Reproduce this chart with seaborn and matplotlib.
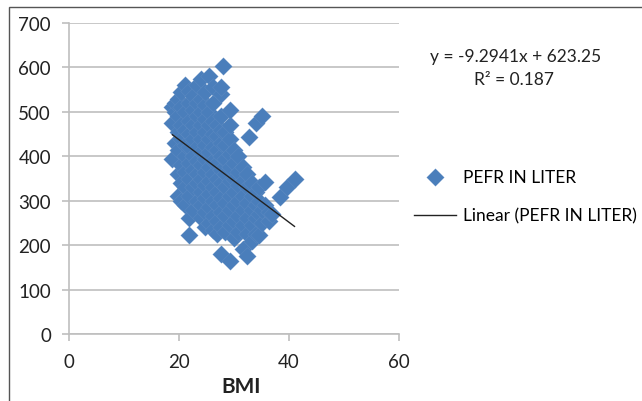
import pandas as pd
import matplotlib.pyplot as plt
import matplotlib.patches as mpatches
import seaborn as sns
import numpy as np

# BMI columns and the PEFR readings (litres/min)
bmi_cols = [18.8, 19.3, 19.8, 20.3, 21.0, 21.8, 22.6, 23.3, 24.0, 24.8,
            25.5, 26.2, 27.0, 27.6, 28.0, 28.4, 29.2, 30.0, 30.8, 31.6,
            32.4, 32.7, 33.2, 34.0, 34.6, 35.1, 35.7, 36.4, 36.9, 38.4,
            39.6, 41.0]
pefr_cols = [
    [395, 475, 512],
    [430, 500, 520],
    [310, 360, 415, 455, 490, 530],
    [300, 340, 380, 440, 470, 510, 545],
    [290, 330, 365, 400, 425, 460, 500, 560],
    [222, 262, 310, 350, 385, 420, 450, 480, 520, 548],
    [280, 330, 370, 400, 440, 470, 505, 535],
    [300, 340, 360, 390, 420, 455, 490, 520, 560],
    [260, 290, 320, 350, 380, 410, 440, 470, 500, 530, 575],
    [240, 275, 305, 335, 365, 395, 425, 455, 485, 515, 545],
    [250, 285, 315, 345, 375, 410, 440, 470, 500, 580],
    [235, 265, 300, 330, 360, 390, 420, 450, 480, 520, 555],
    [225, 255, 290, 320, 350, 385, 415, 445, 470],
    [180, 240, 275, 305, 340, 370, 400, 430, 460, 490, 540, 555],
    [603],
    [230, 265, 295, 330, 360, 395, 425, 455],
    [165, 245, 280, 310, 345, 375, 405, 440, 470, 505],
    [215, 255, 290, 320, 350, 385, 415],
    [230, 265, 300, 335, 365, 400],
    [192, 245, 280, 310, 345, 375],
    [175, 225, 260, 295, 330, 360],
    [443],
    [210, 245, 280, 310, 340],
    [225, 260, 290, 320, 476],
    [222, 270, 300, 330],
    [491, 250, 280],
    [341, 290],
    [255, 275],
    [270],
    [308],
    [330],
    [349],
]
slope, intercept = -9.2941, 623.25

rows = [(b, p) for b, ps in zip(bmi_cols, pefr_cols) for p in ps]
df = pd.DataFrame(rows, columns=['BMI', 'PEFR'])

plt.rcParams['font.family'] = ['Lato', 'DejaVu Sans']
f = plt.figure(figsize=(6.42, 4.02), dpi=100)
ax = f.add_axes([69/642, 1 - 335/402, 330/642, 311/402])

blue = '#4a7ebb'
grey = '#bfbfbf'

sns.scatterplot(data=df, x='BMI', y='PEFR', marker='D', s=80, color=blue,
                edgecolor='#6f97c9', linewidth=0.15, ax=ax,
                label='PEFR IN LITER', zorder=3)

xs = np.array([df['BMI'].min(), df['BMI'].max()])
ax.plot(xs, slope * xs + intercept, color='#222222', lw=1,
        label='Linear (PEFR IN LITER)', zorder=4)

ax.set_xlim(0, 60)
ax.set_ylim(0, 700)
ax.set_xticks([0, 20, 40, 60])
ax.set_yticks(range(0, 701, 100))
ax.grid(axis='y', color=grey, lw=1.2)
ax.set_axisbelow(True)
for s in ['top', 'right']:
    ax.spines[s].set_visible(False)
for s in ['left', 'bottom']:
    ax.spines[s].set_color(grey)
    ax.spines[s].set_linewidth(1.2)
ax.tick_params(axis='both', colors=grey, length=5, width=1.2,
               labelcolor='#222222', labelsize=13.5)
ax.tick_params(axis='y', pad=8)
ax.tick_params(axis='x', pad=9)
ax.set_ylabel('')
ax.set_xlabel('BMI', fontsize=15, fontweight='bold', color='#222222')
ax.xaxis.set_label_coords((241 - 69) / 330, -42 / 311)

ax.text(516/642, 1 - 57/402, 'y = -9.2941x + 623.25', transform=f.transFigure,
        ha='center', va='center', fontsize=12.5, color='#222222')
ax.text(514/642, 1 - 80/402, 'R² = 0.187', transform=f.transFigure,
        ha='center', va='center', fontsize=12.5, color='#222222')

leg = ax.legend(loc='upper left', bbox_to_anchor=(414/642, 1 - 170/402),
                bbox_transform=f.transFigure, frameon=False, fontsize=12.5,
                handlelength=2.4, handletextpad=0.4, labelspacing=1.3,
                borderaxespad=0, borderpad=0)

f.patches.append(mpatches.Rectangle((9/642, -0.1), 1.2, 1.1 - 8/402,
                                    transform=f.transFigure, fill=False,
                                    edgecolor='#555555', lw=1))

f.savefig('out.png', dpi=100)
plt.close('all')
